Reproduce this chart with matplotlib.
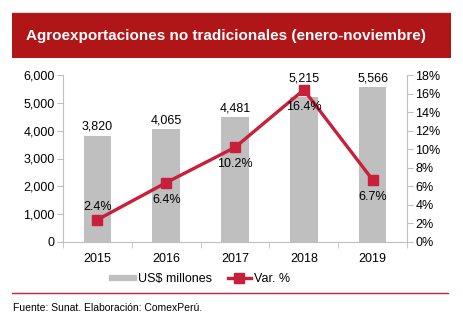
import matplotlib
matplotlib.use("Agg")
import matplotlib.pyplot as plt
from matplotlib.lines import Line2D
from matplotlib.patches import Rectangle
from matplotlib.ticker import FuncFormatter, MultipleLocator

plt.rcParams['font.family'] = ['Liberation Sans', 'DejaVu Sans']

years = ['2015', '2016', '2017', '2018', '2019']
exports = [3820, 4065, 4481, 5215, 5566]   # US$ millones
var_pct = [2.4, 6.4, 10.2, 16.4, 6.7]       # Var. %

bar_color = '#BFBFBF'
line_color = '#C8203A'
axis_gray = '#BFBFBF'
banner_red = '#B01518'

W, H = 463, 324
fig = plt.figure(figsize=(W / 100, H / 100), dpi=100)

# header banner
fig.add_artist(Line2D([12 / W, 451 / W], [1 - 12 / H, 1 - 12 / H], color='#D9D9D9', lw=0.8))
fig.add_artist(Rectangle((12 / W, 1 - 58 / H), 439 / W, 45 / H, color=banner_red, lw=0))
fig.text(26 / W, 1 - 36 / H, 'Agroexportaciones no tradicionales (enero-noviembre)',
         color='white', fontsize=11, fontweight='bold', va='center', ha='left')

ax = fig.add_axes([63 / W, 1 - 242 / H, 344 / W, 167 / H])
x = range(len(years))
bars = ax.bar(x, exports, width=0.4, color=bar_color, zorder=1)
ax.set_xlim(-0.5, len(years) - 0.5)
ax.set_ylim(0, 6000)
ax.yaxis.set_major_locator(MultipleLocator(1000))
ax.yaxis.set_major_formatter(FuncFormatter(lambda v, p: f'{int(v):,}'))
ax.set_xticks(list(x))
ax.set_xticklabels(years)
ax.set_xticks([i - 0.5 for i in range(len(years) + 1)], minor=True)
ax.tick_params(axis='x', which='major', length=0, pad=8, labelsize=9)
ax.tick_params(axis='x', which='minor', length=4, color=axis_gray, direction='out')
ax.tick_params(axis='y', length=4, color=axis_gray, labelsize=9, pad=2)
for side in ['top', 'right']:
    ax.spines[side].set_visible(False)
for side in ['left', 'bottom']:
    ax.spines[side].set_color(axis_gray)

# 2018 label sits higher so the marker does not cover it
for i, (xi, v) in enumerate(zip(x, exports)):
    off = 9 if i == 3 else 2
    ax.annotate(f'{v:,}', (xi, v), xytext=(0, off), textcoords='offset points',
                ha='center', va='bottom', fontsize=9)

ax2 = ax.twinx()
ax2.set_ylim(0, 18)
ax2.yaxis.set_major_locator(MultipleLocator(2))
ax2.yaxis.set_major_formatter(FuncFormatter(lambda v, p: f'{int(v)}%'))
ax2.tick_params(axis='y', length=4, color=axis_gray, labelsize=9, pad=2)
for side in ['top', 'left', 'bottom']:
    ax2.spines[side].set_visible(False)
ax2.spines['right'].set_color(axis_gray)

ax2.plot(list(x), var_pct, color=line_color, lw=2.4, marker='s', markersize=6.5,
         solid_capstyle='round', zorder=3)
for i, (xi, v) in enumerate(zip(x, var_pct)):
    off = 5 if i == 0 else -8
    ax2.annotate(f'{v}%', (xi, v), xytext=(0, off), textcoords='offset points',
                 ha='center', va='bottom' if off > 0 else 'top', fontsize=9)

handles = [Line2D([], [], color=bar_color, lw=4.5),
           Line2D([], [], color=line_color, lw=2.4, marker='s', markersize=6.5)]
fig.legend(handles, ['US$ millones', 'Var. %'], loc='center', ncol=2,
           bbox_to_anchor=(201 / W, 1 - 279 / H), frameon=False, fontsize=9,
           handlelength=1.8, handletextpad=0.3, columnspacing=1.3)

# footer
fig.add_artist(Line2D([12 / W, 448 / W], [1 - 293 / H, 1 - 293 / H], color='#C8203A', lw=1.0))
fig.text(13 / W, 1 - 308 / H, 'Fuente: Sunat. Elaboración: ComexPerú.',
         fontsize=7.5, va='center', ha='left')

fig.savefig('out.png', dpi=100)
